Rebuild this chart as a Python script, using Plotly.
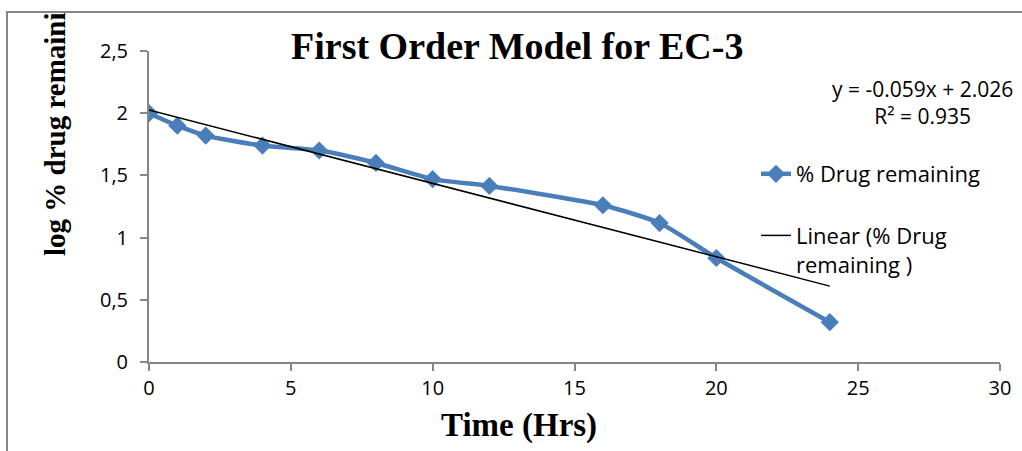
import plotly.graph_objects as go

# Data
time_hrs = [0, 1, 2, 4, 6, 8, 10, 12, 16, 18, 20, 24]
log_drug = [2.00, 1.90, 1.82, 1.74, 1.70, 1.60, 1.47, 1.415, 1.26, 1.117, 0.836, 0.32]
slope = -0.059
intercept = 2.026
r_squared = 0.935

x_ticks = [0, 5, 10, 15, 20, 25, 30]
y_ticks = [0, 0.5, 1, 1.5, 2, 2.5]
y_tick_text = ["0", "0,5", "1", "1,5", "2", "2,5"]

trend_x = [min(time_hrs), max(time_hrs)]
trend_y = [slope * x + intercept for x in trend_x]

W, H = 1022, 451
ML, MR, MT, MB = 149, 22, 51, 89
PW = W - ML - MR
PH = H - MT - MB

def px(xpix):
    return (xpix - ML) / PW

def py(ypix):
    return (H - MB - ypix) / PH

blue = "#4A7EBB"
gray = "#868686"
sans = "Open Sans"
serif = "Liberation Serif"

fig = go.Figure()
fig.add_trace(go.Scatter(
    x=time_hrs, y=log_drug, mode="lines+markers", name="% Drug remaining",
    line=dict(color=blue, width=4.5, shape="spline", smoothing=0.6),
    marker=dict(symbol="diamond", size=14, color=blue),
    legendgroup="a",
))
fig.add_trace(go.Scatter(
    x=trend_x, y=trend_y, mode="lines", name="Linear (% Drug<br>remaining )",
    line=dict(color="black", width=1.5),
    legendgroup="b",
))

fig.update_layout(
    width=W, height=H,
    margin=dict(l=ML, r=MR, t=MT, b=MB),
    paper_bgcolor="white", plot_bgcolor="white",
    showlegend=True,
    legend=dict(x=px(756), y=py(153), xanchor="left", yanchor="top", valign="top",
                font=dict(family=sans, size=22, color="#000"),
                bgcolor="rgba(0,0,0,0)", tracegroupgap=30),
    xaxis=dict(range=[0, 30], tickvals=x_ticks, showgrid=False, zeroline=False,
               showline=True, linecolor=gray, linewidth=2,
               ticks="outside", ticklen=7, tickcolor=gray, tickwidth=2,
               tickfont=dict(family=sans, size=20, color="#000")),
    yaxis=dict(range=[0, 2.5], tickvals=y_ticks, ticktext=y_tick_text,
               showgrid=False, zeroline=False,
               showline=True, linecolor=gray, linewidth=2,
               ticks="outside", ticklen=7, tickcolor=gray, tickwidth=2,
               ticklabelstandoff=8,
               tickfont=dict(family=sans, size=20, color="#000")),
    shapes=[dict(type="rect", xref="paper", yref="paper",
                 x0=px(7), x1=px(1100), y0=py(600), y1=py(12),
                 line=dict(color=gray, width=2), fillcolor="rgba(0,0,0,0)", layer="below")],
    annotations=[
        dict(text="<b>First Order Model for EC-3</b>", xref="paper", yref="paper",
             x=px(517), y=py(46), xanchor="center", yanchor="middle", showarrow=False,
             font=dict(family=serif, size=38, color="#000")),
        dict(text="<b>Time (Hrs)</b>", xref="paper", yref="paper",
             x=px(519), y=py(425), xanchor="center", yanchor="middle", showarrow=False,
             font=dict(family=serif, size=33, color="#000")),
        dict(text="<b>log % drug remaini</b>", xref="paper", yref="paper",
             x=px(55), y=py(258), xanchor="center", yanchor="bottom", textangle=-90,
             showarrow=False, font=dict(family=serif, size=29, color="#000")),
        dict(text=f"y = {slope}x + {intercept}<br>R² = {r_squared}", xref="paper", yref="paper",
             x=px(1015), y=py(102), xanchor="right", yanchor="middle", align="center",
             showarrow=False, font=dict(family=sans, size=21, color="#000")),
    ],
)

fig.write_html("out.html", config={"displayModeBar": False},
               post_script="document.body.style.margin='0';document.body.style.overflow='hidden';")
